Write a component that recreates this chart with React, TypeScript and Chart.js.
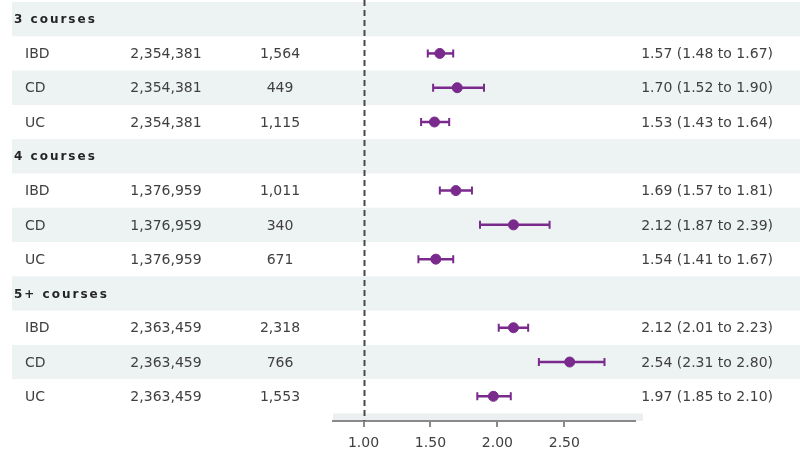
import React, { useEffect, useRef } from "react";
import { Chart, registerables } from "chart.js";

Chart.register(...registerables);

// Forest plot: hazard ratios by number of courses and IBD subtype
const groupLabels = ["3 courses", "4 courses", "5+ courses"];
const subtypeLabels = ["IBD", "CD", "UC"];
const groupPopulation = [2354381, 1376959, 2363459];
const caseCounts = [1564, 449, 1115, 1011, 340, 671, 2318, 766, 1553];
const hazardRatio = [1.57, 1.7, 1.53, 1.69, 2.12, 1.54, 2.12, 2.54, 1.97];
const ciLower = [1.48, 1.52, 1.43, 1.57, 1.87, 1.41, 2.01, 2.31, 1.85];
const ciUpper = [1.67, 1.9, 1.64, 1.81, 2.39, 1.67, 2.23, 2.8, 2.1];
const xTickValues = [1.0, 1.5, 2.0, 2.5];

const PURPLE = "#7a2a8c";
const BAND = "#edf2f3";
const TEXT = "#404040";
const FONT = "'DejaVu Sans', sans-serif";

const rowsPerGroup = subtypeLabels.length + 1;
const totalRows = groupLabels.length * rowsPerGroup;
const rowOf = (i: number) =>
  Math.floor(i / subtypeLabels.length) * rowsPerGroup + 1 + (i % subtypeLabels.length);

const fmt = (n: number) => n.toLocaleString("en-US");

const tablePlugin = {
  id: "forestTable",
  beforeDraw(chart: any) {
    const { ctx, scales, chartArea } = chart;
    const y = scales.y;
    ctx.save();
    for (let r = 0; r < totalRows; r++) {
      const isHeader = r % rowsPerGroup === 0;
      const isShaded = isHeader || (r % rowsPerGroup) % 2 === 0;
      if (!isShaded) continue;
      const top = y.getPixelForValue(r - 0.5);
      const bottom = y.getPixelForValue(r + 0.5);
      ctx.fillStyle = BAND;
      ctx.fillRect(12, top, 800 - 12, bottom - top);
    }
    // thin strip under the last row across the plot column
    const lastBottom = y.getPixelForValue(totalRows - 0.5);
    ctx.fillStyle = "#eceff0";
    ctx.fillRect(chartArea.left, lastBottom, chartArea.right - chartArea.left + 8, chartArea.bottom - lastBottom);
    ctx.restore();
  },
  beforeDatasetsDraw(chart: any) {
    const { ctx, scales, chartArea } = chart;
    const x = scales.x;
    const y = scales.y;
    ctx.save();

    // reference line at HR = 1
    const x1 = Math.round(x.getPixelForValue(1)) + 0.5;
    ctx.strokeStyle = "#4a4a4a";
    ctx.lineWidth = 2;
    ctx.setLineDash([6, 4]);
    ctx.beginPath();
    ctx.moveTo(x1, 0);
    ctx.lineTo(x1, chartArea.bottom);
    ctx.stroke();
    ctx.setLineDash([]);

    // confidence intervals
    ctx.strokeStyle = PURPLE;
    hazardRatio.forEach((_, i) => {
      const py = y.getPixelForValue(rowOf(i));
      const xl = x.getPixelForValue(ciLower[i]);
      const xh = x.getPixelForValue(ciUpper[i]);
      ctx.lineWidth = 2.5;
      ctx.beginPath();
      ctx.moveTo(xl, py);
      ctx.lineTo(xh, py);
      ctx.stroke();
      ctx.lineWidth = 2;
      ctx.beginPath();
      ctx.moveTo(xl, py - 4);
      ctx.lineTo(xl, py + 4);
      ctx.moveTo(xh, py - 4);
      ctx.lineTo(xh, py + 4);
      ctx.stroke();
    });

    // table text
    ctx.textBaseline = "middle";
    groupLabels.forEach((g, gi) => {
      const py = y.getPixelForValue(gi * rowsPerGroup);
      ctx.font = `bold 12px 'DejaVu Sans', sans-serif`;
      (ctx as any).letterSpacing = "2px";
      ctx.fillStyle = "#252525";
      ctx.textAlign = "left";
      ctx.fillText(g, 14, py + 1);
      (ctx as any).letterSpacing = "0px";
    });
    ctx.font = `14px ${FONT}`;
    ctx.fillStyle = TEXT;
    hazardRatio.forEach((hr, i) => {
      const py = y.getPixelForValue(rowOf(i)) + 1;
      const gi = Math.floor(i / subtypeLabels.length);
      ctx.textAlign = "left";
      ctx.fillText(subtypeLabels[i % subtypeLabels.length], 25, py);
      ctx.textAlign = "center";
      ctx.fillText(fmt(groupPopulation[gi]), 166, py);
      ctx.fillText(fmt(caseCounts[i]), 280, py);
      ctx.textAlign = "right";
      ctx.fillText(
        `${hr.toFixed(2)} (${ciLower[i].toFixed(2)} to ${ciUpper[i].toFixed(2)})`,
        773,
        py
      );
    });
    ctx.restore();
  },
};

export default function App() {
  const canvasRef = useRef<HTMLCanvasElement | null>(null);

  useEffect(() => {
    if (!canvasRef.current) return;
    const chart = new Chart(canvasRef.current, {
      type: "scatter",
      data: {
        datasets: [
          {
            data: hazardRatio.map((v, i) => ({ x: v, y: rowOf(i) })),
            backgroundColor: PURPLE,
            borderColor: PURPLE,
            pointRadius: 5,
            pointHoverRadius: 5,
          },
        ],
      },
      options: {
        animation: false,
        responsive: false,
        devicePixelRatio: 1,
        layout: { autoPadding: false, padding: { left: 333, right: 165, top: 2, bottom: 0 } },
        plugins: { legend: { display: false }, tooltip: { enabled: false } },
        scales: {
          x: {
            type: "linear",
            min: 0.772,
            max: 3.028,
            afterBuildTicks: (s: any) => {
              s.ticks = xTickValues.map((v) => ({ value: v }));
            },
            afterFit: (s: any) => {
              s.height = 43;
            },
            ticks: {
              callback: (v: any) => Number(v).toFixed(2),
              font: { family: FONT, size: 14 },
              color: TEXT,
              padding: 8,
              autoSkip: false,
              maxRotation: 0,
            },
            grid: {
              drawOnChartArea: false,
              drawTicks: true,
              tickLength: 6,
              color: "#8a8a8a",
              lineWidth: 2,
            },
            border: { display: true, color: "#8a8a8a", width: 2 },
          },
          y: {
            type: "linear",
            reverse: true,
            min: -0.5,
            max: 11.72,
            display: false,
          },
        },
      },
      plugins: [tablePlugin],
    });
    return () => chart.destroy();
  }, []);

  return (
    <div style={{ position: "fixed", left: 0, top: 0, width: 800, height: 464, background: "#fff" }}>
      <canvas ref={canvasRef} width={800} height={464} style={{ display: "block" }} />
    </div>
  );
}
